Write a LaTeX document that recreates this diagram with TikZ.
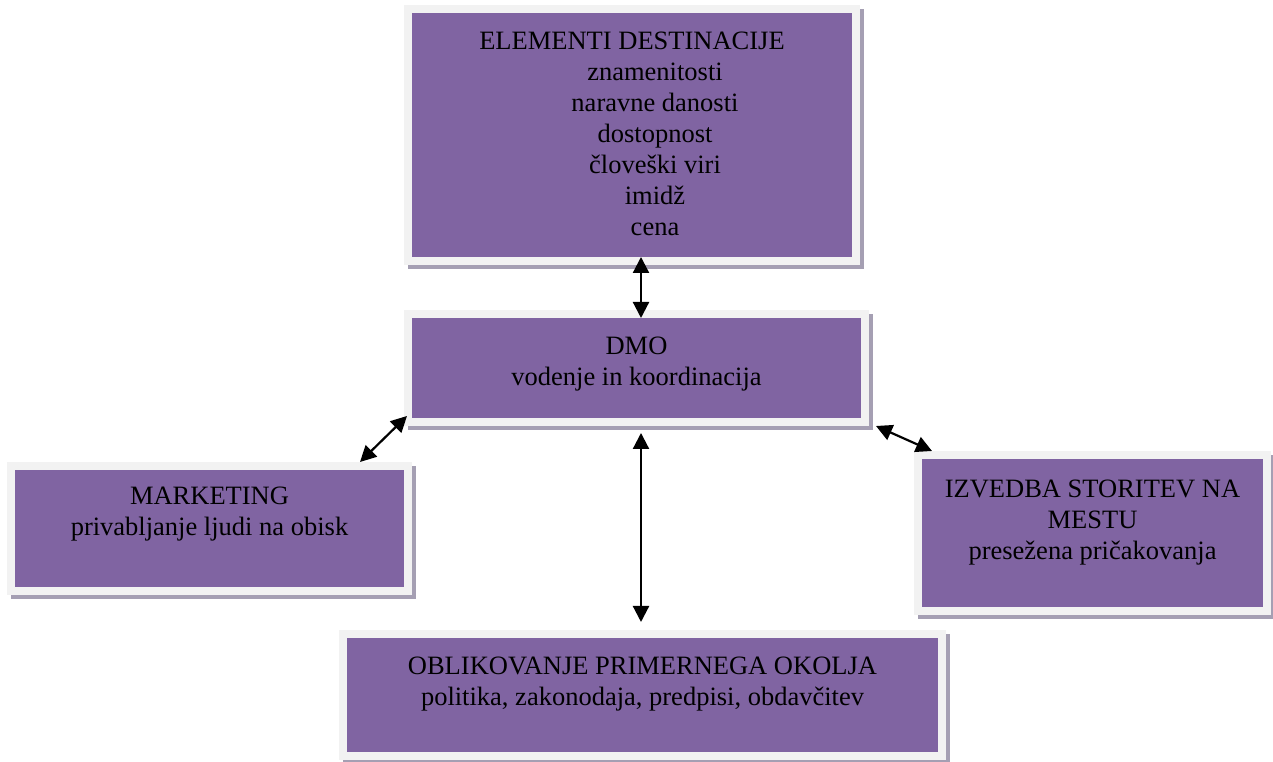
\documentclass[tikz,border=0pt]{standalone}
\usepackage{fontspec}
\setmainfont{Liberation Serif}
\usetikzlibrary{arrows.meta,calc}
\definecolor{boxpurple}{HTML}{8064A2}
\definecolor{framegray}{HTML}{F2F2F2}
\definecolor{shadowgray}{HTML}{A59FB3}
\tikzset{
  box/.style={rectangle, fill=boxpurple, draw=framegray, line width=8pt,
    inner sep=0pt, outer sep=0pt,
    preaction={draw=shadowgray, line width=8pt, transform canvas={shift={(4pt,-4pt)}}}},
  boxtext/.style={anchor=north, align=center, inner sep=0pt,
    font=\fontsize{26.5}{31}\selectfont, text=black},
  link/.style={{Triangle[length=16pt,width=16pt]}-{Triangle[length=16pt,width=16pt]},
    line width=2.2pt, draw=black},
}
\begin{document}
\begin{tikzpicture}[x=1pt,y=1pt]
\useasboundingbox (0,0) rectangle (1273,762);
% boxes
\node[box, minimum width=448pt, minimum height=252pt] (elem) at (632,627) {};
\node[box, minimum width=457pt, minimum height=108pt] (dmo) at (636.5,394) {};
\node[box, minimum width=397pt, minimum height=125pt] (mark) at (209.5,233.5) {};
\node[box, minimum width=349pt, minimum height=156pt] (izv) at (1092.5,229) {};
\node[box, minimum width=599pt, minimum height=122pt] (oblik) at (642.5,67) {};
% texts
\node[boxtext] (elemtxt) at ([yshift=-22.5pt]elem.north) {ELEMENTI DESTINACIJE\\
  \hspace*{46pt}znamenitosti\\
  \hspace*{46pt}naravne danosti\\
  \hspace*{46pt}dostopnost\\
  \hspace*{46pt}človeški viri\\
  \hspace*{46pt}imidž\\
  \hspace*{46pt}cena};
\node[boxtext] (dmotxt) at ([yshift=-22.5pt]dmo.north) {DMO\\vodenje in koordinacija};
\node[boxtext] (marktxt) at ([yshift=-20.5pt]mark.north) {MARKETING\\privabljanje ljudi na obisk};
\node[boxtext] (izvtxt) at ([yshift=-24.5pt]izv.north) {IZVEDBA STORITEV NA\\MESTU\\presežena pričakovanja};
\node[boxtext] (obliktxt) at ([yshift=-22.5pt]oblik.north) {OBLIKOVANJE PRIMERNEGA OKOLJA\\politika, zakonodaja, predpisi, obdavčitev};
% connectors
\draw[link] ([xshift=9pt,yshift=4pt]elem.south) -- ([xshift=4.5pt,yshift=-4pt]dmo.north);
\draw[link] ([xshift=4.5pt,yshift=-11pt]dmo.south) -- ([xshift=-1.5pt,yshift=12pt]oblik.north);
\draw[link] ([xshift=-1pt,yshift=6pt]dmo.south west) -- ([xshift=-48pt,yshift=4pt]mark.north east);
\draw[link] ([xshift=11pt,yshift=-4pt]dmo.south east) -- ([xshift=14pt,yshift=4pt]izv.north west);
\end{tikzpicture}
\end{document}
